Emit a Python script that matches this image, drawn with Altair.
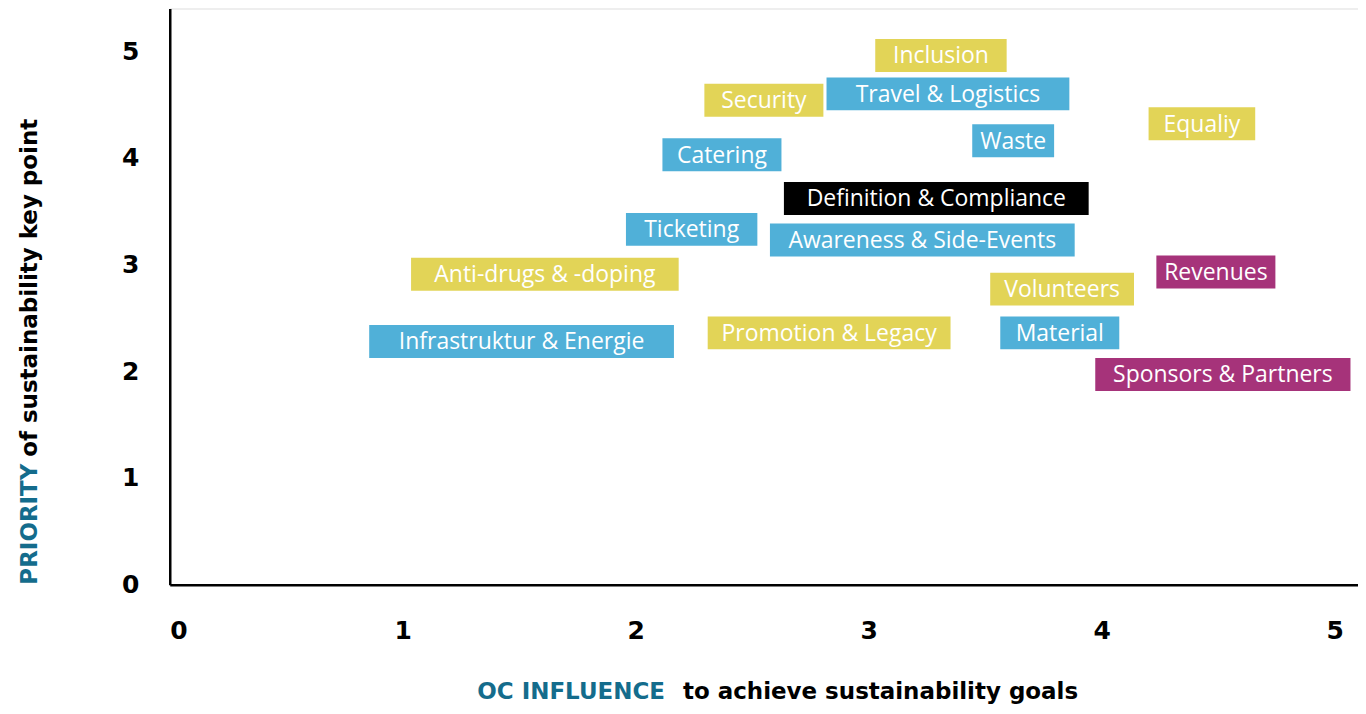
import altair as alt
import pandas as pd

labels = ["Inclusion", "Security", "Travel & Logistics", "Equaliy", "Waste", "Catering",
          "Definition & Compliance", "Ticketing", "Awareness & Side-Events",
          "Anti-drugs & -doping", "Revenues", "Volunteers", "Promotion & Legacy",
          "Material", "Infrastruktur & Energie", "Sponsors & Partners"]
influence = [3.31, 2.55, 3.34, 4.43, 3.62, 2.37, 3.29, 2.24, 3.23, 1.61, 4.49, 3.83, 2.83, 3.82, 1.51, 4.52]
priority = [4.96, 4.54, 4.60, 4.32, 4.16, 4.03, 3.62, 3.33, 3.23, 2.91, 2.93, 2.77, 2.36, 2.36, 2.28, 1.97]
group = ["yellow", "yellow", "blue", "yellow", "blue", "blue", "black", "blue", "blue",
         "yellow", "magenta", "yellow", "yellow", "blue", "blue", "magenta"]

grp_domain = ["yellow", "blue", "black", "magenta"]
grp_colors = ["#E2D457", "#50B0D8", "#000000", "#A6337A"]

df = pd.DataFrame({"label": labels, "x": influence, "y": priority, "g": group})

W, H = 1190, 577
XMAX, YMAX = 5.1, 5.4
pxx = W / XMAX
pxy = H / YMAX

HEAVY = "DejaVu Sans"
axis_style = dict(title=None, grid=False, ticks=False, domainColor="black", domainWidth=2.5,
                  labelFont=HEAVY, labelFontWeight="bold", labelFontSize=25,
                  labelColor="black", format="d", values=[0, 1, 2, 3, 4, 5])

base = alt.Chart(df)

boxes = base.transform_calculate(
    hw="(12.4*length(datum.label)+20)/2/" + str(pxx),
    x1="datum.x - datum.hw",
    x2="datum.x + datum.hw",
    y1="datum.y - 16.5/" + str(pxy),
    y2="datum.y + 16.5/" + str(pxy),
).mark_rect().encode(
    x=alt.X("x1:Q", scale=alt.Scale(domain=[0, XMAX], nice=False, zero=False),
            axis=alt.Axis(labelPadding=34, **axis_style)),
    x2="x2:Q",
    y=alt.Y("y1:Q", scale=alt.Scale(domain=[0, YMAX], nice=False, zero=False),
            axis=alt.Axis(labelPadding=31, **axis_style)),
    y2="y2:Q",
    color=alt.Color("g:N", scale=alt.Scale(domain=grp_domain, range=grp_colors), legend=None),
)

texts = base.mark_text(font="Open Sans", fontSize=23, fontWeight="normal", color="white",
                       align="center", baseline="middle", dy=1).encode(
    x="x:Q", y="y:Q", text="label:N"
)

title_font = dict(font=HEAVY, fontWeight="bold", fontSize=23)
teal = "#146C8C"

ytitle1 = alt.Chart(pd.DataFrame({"t": ["PRIORITY"]})).mark_text(
    angle=270, align="left", baseline="middle", color=teal, **title_font
).encode(x=alt.value(-140), y=alt.value(H), text="t:N")
ytitle2 = alt.Chart(pd.DataFrame({"t": ["of sustainability key point"]})).mark_text(
    angle=270, align="left", baseline="middle", color="black", **title_font
).encode(x=alt.value(-140), y=alt.value(H - 128), text="t:N")

xtitle1 = alt.Chart(pd.DataFrame({"t": ["OC INFLUENCE"]})).mark_text(
    align="left", baseline="middle", color=teal, **title_font
).encode(x=alt.value(308), y=alt.value(685), text="t:N")
xtitle2 = alt.Chart(pd.DataFrame({"t": ["to achieve sustainability goals"]})).mark_text(
    align="left", baseline="middle", color="black", **title_font
).encode(x=alt.value(514), y=alt.value(685), text="t:N")

chart = alt.layer(boxes, texts, ytitle1, ytitle2, xtitle1, xtitle2).properties(
    width=W, height=H,
    autosize=alt.AutoSizeParams(type="none"),
    padding={"left": 162, "top": 0, "right": 0, "bottom": 120},
).configure_view(stroke="transparent", strokeWidth=0).configure(background="white")

chart.save("out.html", embed_options={"renderer": "svg", "actions": False})
